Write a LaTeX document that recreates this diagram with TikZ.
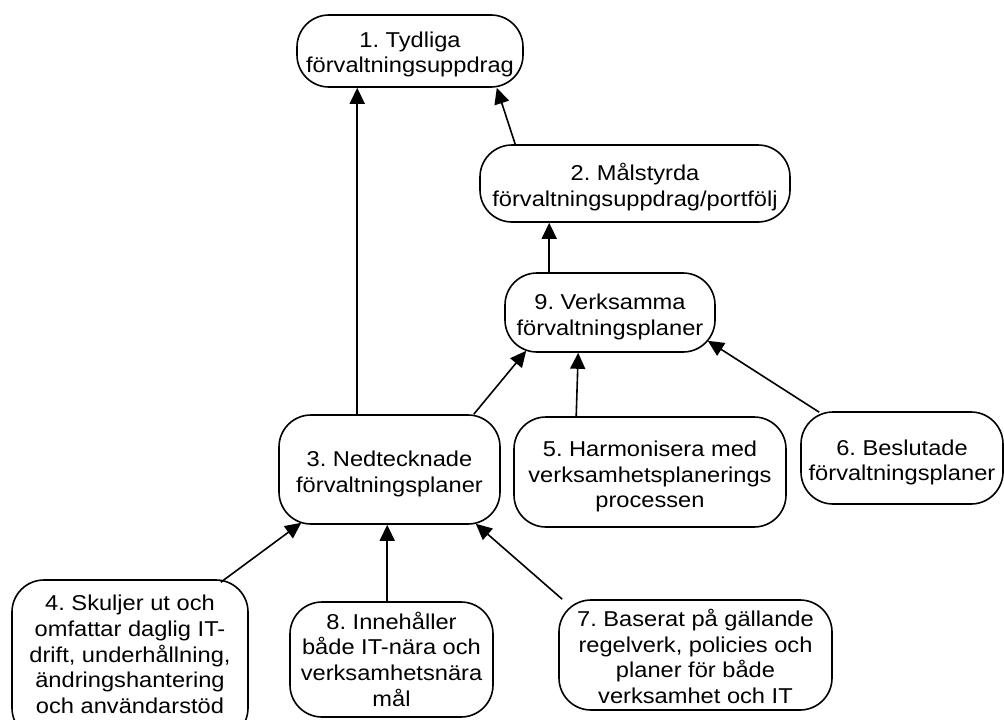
\documentclass[tikz,border=0pt]{standalone}
\usepackage{fontspec}
\setmainfont[FakeStretch=1.1]{Liberation Sans}
\usetikzlibrary{arrows.meta,calc}
\frenchspacing
% centred lines of a box, lowered a little within the box
\newcommand{\boxtext}[2][-5pt]{\raisebox{#1}[\height][\depth]{\begin{tabular}{@{}c@{}}#2\end{tabular}}}
\tikzset{
  box/.style={draw=black, line width=1.6pt, rounded corners=32pt,
    inner sep=0pt, font=\fontsize{21.5}{25.7}\selectfont},
  arr/.style={line width=1.6pt, -{Triangle[length=16pt,width=15pt]}},
}
\begin{document}
\begin{tikzpicture}[x=1pt,y=1pt]
\useasboundingbox (0,0) rectangle (1004,-720);
\fill[white] (0,0) rectangle (1004,-720);
\clip (0,0) rectangle (1004,-720);

% nodes (centre, width, height)
\node[box, minimum width=226pt, minimum height=72pt]  (n1) at (410,-51)    {\boxtext[-4pt]{1. Tydliga\\förvaltningsuppdrag}};
\node[box, minimum width=310pt, minimum height=77pt]  (n2) at (635,-183.5) {\boxtext{2. Målstyrda\\förvaltningsuppdrag/portfölj}};
\node[box, minimum width=210pt, minimum height=79pt]  (n9) at (610,-312.5) {\boxtext{9. Verksamma\\förvaltningsplaner}};
\node[box, minimum width=221pt, minimum height=109pt] (n3) at (389.5,-469.5) {\boxtext{3. Nedtecknade\\förvaltningsplaner}};
\node[box, minimum width=272pt, minimum height=110pt] (n5) at (650,-472)   {\boxtext{5. Harmonisera med\\verksamhetsplanerings\\processen}};
\node[box, minimum width=202pt, minimum height=92pt]  (n6) at (902,-458)   {\boxtext{6. Beslutade\\förvaltningsplaner}};
\node[box, minimum width=273pt, minimum height=110pt] (n7) at (695.5,-655) {\boxtext{7. Baserat på gällande\\regelverk, policies och\\planer för både\\verksamhet och IT}};
\node[box, minimum width=236pt, minimum height=160pt] (n4) at (130,-660)   {\boxtext[3pt]{4. Skuljer ut och\\omfattar daglig IT-\\drift, underhållning,\\ändringshantering\\och användarstöd}};
\node[box, minimum width=203pt, minimum height=115pt] (n8) at (391.5,-659.5) {\boxtext[-3pt]{8. Innehåller\\både IT-nära och\\verksamhetsnära\\mål}};

% connectors
\draw[arr] ($(n3.north west)+(79,0)$)  -- ($(n1.south west)+(61,0)$);
\draw[arr] ($(n2.north west)+(36,0)$)  -- ($(n1.south east)+(-27,0)$);
\draw[arr] ($(n9.north west)+(45,0)$)  -- ($(n2.south west)+(70,0)$);
\draw[arr] ($(n3.north east)+(-27,0)$) -- ($(n9.south west)+(22,2)$);
\draw[arr] ($(n5.north west)+(63,0)$)  -- ($(n9.south west)+(74,0)$);
\draw[arr] ($(n6.north west)+(19,-1)$) -- ($(n9.south east)+(-8,12)$);
\draw[arr] ($(n4.north east)+(-28,-3)$) -- ($(n3.south west)+(23,2)$);
\draw[arr] ($(n8.north west)+(98,0)$)  -- ($(n3.south west)+(109,0)$);
\draw[arr] ($(n7.north west)+(4,0)$)   -- ($(n3.south east)+(-25,1)$);
\end{tikzpicture}
\end{document}
